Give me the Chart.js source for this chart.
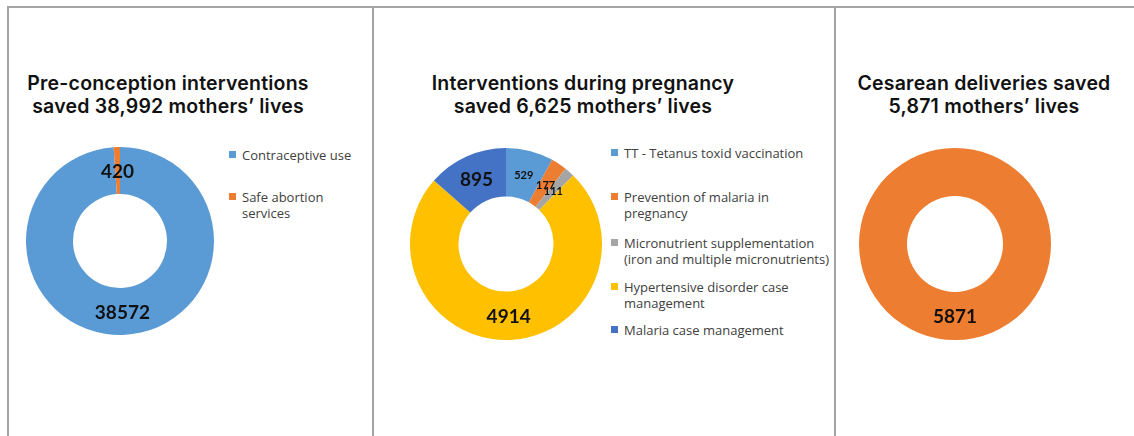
<!DOCTYPE html>
<html>
<head>
<meta charset="utf-8">
<script src="https://cdn.jsdelivr.net/npm/chart.js@4.4.1/dist/chart.umd.min.js"></script>
<style>
  body { margin: 0; background: #fff; width: 1134px; height: 436px; overflow: hidden; position: relative; }
  .line { position: absolute; background: #a3a3a3; }
  .title { position: absolute; text-align: center; font-family: Inter, sans-serif; font-weight: 600;
           font-size: 19.5px; letter-spacing: 0.2px; line-height: 23px; color: #111; white-space: nowrap; transform: translateX(-50%); }
  .legend { position: absolute; font-family: "Open Sans", sans-serif; font-size: 13px; color: #404040; line-height: 16px; }
  .legend .item { position: relative; padding-left: 13px; white-space: nowrap; }
  .legend .box { position: absolute; left: 0; top: 4px; width: 7px; height: 7px; }
  canvas { position: absolute; }
</style>
</head>
<body>
<div class="line" style="left:7px;top:6px;width:1127px;height:2px"></div>
<div class="line" style="left:7px;top:6px;width:2px;height:430px"></div>
<div class="line" style="left:372px;top:6px;width:2px;height:430px"></div>
<div class="line" style="left:834px;top:6px;width:2px;height:430px"></div>

<div class="title" style="left:168px;top:72px">Pre-conception interventions<br>saved 38,992 mothers’ lives</div>
<div class="title" style="left:583px;top:72px">Interventions during pregnancy<br>saved 6,625 mothers’ lives</div>
<div class="title" style="left:984px;top:72px">Cesarean deliveries saved<br>5,871 mothers’ lives</div>

<canvas id="c1" width="188" height="188" style="left:26px;top:147px"></canvas>
<canvas id="c2" width="192" height="192" style="left:410px;top:148px"></canvas>
<canvas id="c3" width="192" height="192" style="left:859px;top:148px"></canvas>

<div class="legend" id="leg1" style="left:229px;top:147px"></div>
<div class="legend" id="leg2" style="left:611px;top:145px"></div>

<script>
// panel 1
const preLabels = [['Contraceptive use'], ['Safe abortion', 'services']];
const preValues = [38572, 420];
const preColors = ['#5B9BD5', '#ED7D31'];
const preFont = [19, 19];

// panel 2
const pregLabels = [
  ['TT - Tetanus toxid vaccination'],
  ['Prevention of malaria in', 'pregnancy'],
  ['Micronutrient supplementation', '(iron and multiple micronutrients)'],
  ['Hypertensive disorder case', 'management'],
  ['Malaria case management']
];
const pregValues = [529, 177, 111, 4914, 895];
const pregColors = ['#5B9BD5', '#ED7D31', '#A5A5A5', '#FFC000', '#4472C4'];
const pregFont = [11, 11, 11, 19, 19];

// panel 3
const cesLabels = [['Cesarean deliveries']];
const cesValues = [5871];
const cesColors = ['#ED7D31'];
const cesFont = [19];

// value labels in the middle of each ring slice
const sliceLabels = {
  id: 'sliceLabels',
  afterDatasetsDraw(chart) {
    const ctx = chart.ctx;
    const ds = chart.data.datasets[0];
    chart.getDatasetMeta(0).data.forEach((arc, i) => {
      const p = arc.tooltipPosition();
      ctx.save();
      ctx.font = 'bold ' + ds.labelSizes[i] + 'px Lato, sans-serif';
      ctx.fillStyle = '#111';
      ctx.textAlign = 'center';
      ctx.textBaseline = 'middle';
      ctx.fillText(ds.data[i], p.x, p.y + 1);
      ctx.restore();
    });
  }
};

function makeDonut(id, labels, values, colors, sizes, cutout) {
  new Chart(document.getElementById(id), {
    type: 'doughnut',
    data: {
      labels: labels.map(l => l.join(' ')),
      datasets: [{
        data: values,
        backgroundColor: colors,
        borderWidth: 0,
        labelSizes: sizes
      }]
    },
    options: {
      responsive: false,
      animation: false,
      cutout: cutout,
      plugins: {
        legend: { display: false },
        tooltip: { enabled: false }
      }
    },
    plugins: [sliceLabels]
  });
}

function makeLegend(id, labels, colors, gaps) {
  const el = document.getElementById(id);
  labels.forEach((lines, i) => {
    const item = document.createElement('div');
    item.className = 'item';
    item.style.marginBottom = gaps[i] + 'px';
    item.innerHTML = '<span class="box" style="background:' + colors[i] + '"></span>' + lines.join('<br>');
    el.appendChild(item);
  });
}

makeDonut('c1', preLabels, preValues, preColors, preFont, '50%');
makeDonut('c2', pregLabels, pregValues, pregColors, pregFont, '49.5%');
makeDonut('c3', cesLabels, cesValues, cesColors, cesFont, '50%');

makeLegend('leg1', preLabels, preColors, [26, 0]);
makeLegend('leg2', pregLabels, pregColors, [28, 14, 12, 11, 0]);
</script>
</body>
</html>
